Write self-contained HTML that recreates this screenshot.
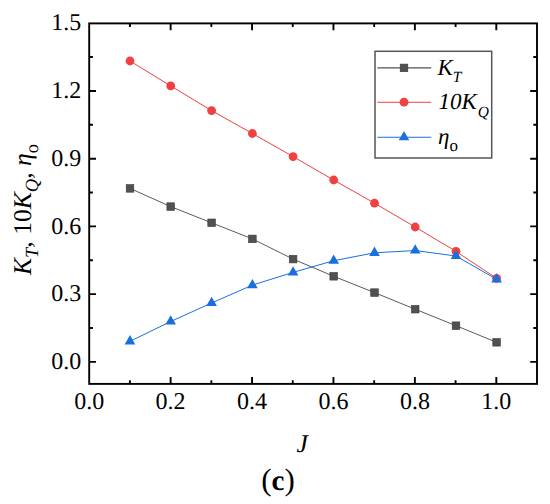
<!DOCTYPE html>
<html><head><meta charset="utf-8"><style>
html,body{margin:0;padding:0;background:#fff;}
svg{display:block;}
text{font-family:"Liberation Serif",serif;fill:#000;text-rendering:geometricPrecision;}
</style></head><body>
<svg width="550" height="504" viewBox="0 0 550 504">
<rect width="550" height="504" fill="#fff"/>
<polyline points="130.0,188.4 170.7,206.6 211.6,222.8 252.4,238.9 293.1,259.1 333.7,276.3 374.5,292.6 415.2,309.2 456.0,325.7 496.6,342.3" fill="none" stroke="#5a5a5a" stroke-width="1.0"/>
<rect x="126.20" y="184.60" width="7.6" height="7.6" fill="#515151" stroke="#3c3c3c" stroke-width="0.6"/>
<rect x="166.90" y="202.80" width="7.6" height="7.6" fill="#515151" stroke="#3c3c3c" stroke-width="0.6"/>
<rect x="207.80" y="219.00" width="7.6" height="7.6" fill="#515151" stroke="#3c3c3c" stroke-width="0.6"/>
<rect x="248.60" y="235.10" width="7.6" height="7.6" fill="#515151" stroke="#3c3c3c" stroke-width="0.6"/>
<rect x="289.30" y="255.30" width="7.6" height="7.6" fill="#515151" stroke="#3c3c3c" stroke-width="0.6"/>
<rect x="329.90" y="272.50" width="7.6" height="7.6" fill="#515151" stroke="#3c3c3c" stroke-width="0.6"/>
<rect x="370.70" y="288.80" width="7.6" height="7.6" fill="#515151" stroke="#3c3c3c" stroke-width="0.6"/>
<rect x="411.40" y="305.40" width="7.6" height="7.6" fill="#515151" stroke="#3c3c3c" stroke-width="0.6"/>
<rect x="452.20" y="321.90" width="7.6" height="7.6" fill="#515151" stroke="#3c3c3c" stroke-width="0.6"/>
<rect x="492.80" y="338.50" width="7.6" height="7.6" fill="#515151" stroke="#3c3c3c" stroke-width="0.6"/>
<polyline points="130.0,61.0 170.7,85.9 211.6,110.6 252.4,133.5 293.1,156.6 333.7,180.0 374.5,203.2 415.2,227.0 456.0,251.4 496.6,278.3" fill="none" stroke="#F14040" stroke-width="1.0"/>
<circle cx="130.00" cy="61.00" r="4.4" fill="#F14040"/>
<circle cx="170.70" cy="85.90" r="4.4" fill="#F14040"/>
<circle cx="211.60" cy="110.60" r="4.4" fill="#F14040"/>
<circle cx="252.40" cy="133.50" r="4.4" fill="#F14040"/>
<circle cx="293.10" cy="156.60" r="4.4" fill="#F14040"/>
<circle cx="333.70" cy="180.00" r="4.4" fill="#F14040"/>
<circle cx="374.50" cy="203.20" r="4.4" fill="#F14040"/>
<circle cx="415.20" cy="227.00" r="4.4" fill="#F14040"/>
<circle cx="456.00" cy="251.40" r="4.4" fill="#F14040"/>
<circle cx="496.60" cy="278.30" r="4.4" fill="#F14040"/>
<polyline points="130.0,341.3 170.7,321.5 211.6,303.0 252.4,285.1 293.1,272.4 333.7,260.7 374.5,252.8 415.2,250.5 456.0,256.0 496.6,279.3" fill="none" stroke="#1A6FDF" stroke-width="1.0"/>
<path d="M130.00,335.10 L135.30,344.40 L124.70,344.40 Z" fill="#1A6FDF"/>
<path d="M170.70,315.30 L176.00,324.60 L165.40,324.60 Z" fill="#1A6FDF"/>
<path d="M211.60,296.80 L216.90,306.10 L206.30,306.10 Z" fill="#1A6FDF"/>
<path d="M252.40,278.90 L257.70,288.20 L247.10,288.20 Z" fill="#1A6FDF"/>
<path d="M293.10,266.20 L298.40,275.50 L287.80,275.50 Z" fill="#1A6FDF"/>
<path d="M333.70,254.50 L339.00,263.80 L328.40,263.80 Z" fill="#1A6FDF"/>
<path d="M374.50,246.60 L379.80,255.90 L369.20,255.90 Z" fill="#1A6FDF"/>
<path d="M415.20,244.30 L420.50,253.60 L409.90,253.60 Z" fill="#1A6FDF"/>
<path d="M456.00,249.80 L461.30,259.10 L450.70,259.10 Z" fill="#1A6FDF"/>
<path d="M496.60,273.10 L501.90,282.40 L491.30,282.40 Z" fill="#1A6FDF"/>
<rect x="89.2" y="23.4" width="447.80" height="360.50" fill="none" stroke="#000" stroke-width="1.9"/>
<path d="M129.91,383.90v-3.7M129.91,23.40v3.7M170.62,383.90v-6.8M170.62,23.40v6.8M211.33,383.90v-3.7M211.33,23.40v3.7M252.04,383.90v-6.8M252.04,23.40v6.8M292.75,383.90v-3.7M292.75,23.40v3.7M333.46,383.90v-6.8M333.46,23.40v6.8M374.17,383.90v-3.7M374.17,23.40v3.7M414.88,383.90v-6.8M414.88,23.40v6.8M455.59,383.90v-3.7M455.59,23.40v3.7M496.30,383.90v-6.8M496.30,23.40v6.8M89.20,361.90h6.8M537.00,361.90h-6.8M89.20,328.03h3.7M537.00,328.03h-3.7M89.20,294.16h6.8M537.00,294.16h-6.8M89.20,260.29h3.7M537.00,260.29h-3.7M89.20,226.42h6.8M537.00,226.42h-6.8M89.20,192.55h3.7M537.00,192.55h-3.7M89.20,158.68h6.8M537.00,158.68h-6.8M89.20,124.81h3.7M537.00,124.81h-3.7M89.20,90.94h6.8M537.00,90.94h-6.8M89.20,57.07h3.7M537.00,57.07h-3.7" stroke="#000" stroke-width="1.9" fill="none"/>
<text x="89.20" y="409.4" font-size="24" text-anchor="middle">0.0</text>
<text x="170.62" y="409.4" font-size="24" text-anchor="middle">0.2</text>
<text x="252.04" y="409.4" font-size="24" text-anchor="middle">0.4</text>
<text x="333.46" y="409.4" font-size="24" text-anchor="middle">0.6</text>
<text x="414.88" y="409.4" font-size="24" text-anchor="middle">0.8</text>
<text x="496.30" y="409.4" font-size="24" text-anchor="middle">1.0</text>
<text x="81.2" y="369.00" font-size="24" text-anchor="end">0.0</text>
<text x="81.2" y="301.26" font-size="24" text-anchor="end">0.3</text>
<text x="81.2" y="233.52" font-size="24" text-anchor="end">0.6</text>
<text x="81.2" y="165.78" font-size="24" text-anchor="end">0.9</text>
<text x="81.2" y="98.04" font-size="24" text-anchor="end">1.2</text>
<text x="81.2" y="30.30" font-size="24" text-anchor="end">1.5</text>
<text x="302.2" y="451.9" font-size="25.5" font-style="italic" text-anchor="middle">J</text>
<text x="278" y="490.4" font-size="31" text-anchor="middle">(<tspan font-weight="bold" font-size="29">c</tspan>)</text>
<text transform="translate(31.2,275) rotate(-90)" font-size="25.6"><tspan font-style="italic">K</tspan><tspan font-style="italic" font-size="18.5" dy="7">T</tspan><tspan dy="-7">, 10</tspan><tspan font-style="italic">K</tspan><tspan font-style="italic" font-size="18.5" dy="7">Q</tspan><tspan dy="-7">, </tspan><tspan font-style="italic">η</tspan><tspan font-size="18.5" dy="7">o</tspan></text>
<rect x="375" y="51.3" width="116.7" height="106.7" fill="#fff" stroke="#555" stroke-width="1.5"/>
<line x1="377.4" x2="431.2" y1="67.9" y2="67.9" stroke="#515151" stroke-width="1.1"/>
<rect x="400.20" y="64.10" width="7.6" height="7.6" fill="#515151" stroke="#3c3c3c" stroke-width="0.6"/>
<line x1="377.4" x2="431.2" y1="102.2" y2="102.2" stroke="#F14040" stroke-width="1.1"/>
<circle cx="404" cy="102.2" r="4.4" fill="#F14040"/>
<line x1="377.4" x2="431.2" y1="137.2" y2="137.2" stroke="#1A6FDF" stroke-width="1.1"/>
<path d="M404.00,131.00 L409.30,140.30 L398.70,140.30 Z" fill="#1A6FDF"/>
<text x="437.5" y="75" font-size="23" font-style="italic">K<tspan font-size="15.5" dy="6.5">T</tspan></text>
<text x="438.5" y="108.9" font-size="23" font-style="italic">10K<tspan font-size="15.5" dy="7.6" dx="0.8">Q</tspan></text>
<text x="438" y="144" font-size="23"><tspan font-style="italic">η</tspan><tspan font-size="17" dy="6.5">o</tspan></text>
</svg>
</body></html>
